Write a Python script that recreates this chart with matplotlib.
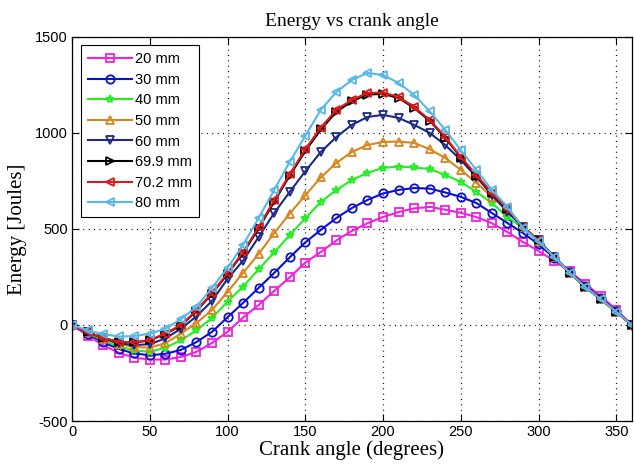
import matplotlib
matplotlib.use("Agg")
import matplotlib.pyplot as plt
from matplotlib import font_manager as fm
import numpy as np

plt.rcParams["axes.unicode_minus"] = False

angles = list(range(0, 361, 10))

e_20mm = [0, -55, -105, -145, -170, -180, -180, -167, -140, -94, -36, 39, 104, 177, 248,
          325, 380, 440, 490, 530, 562, 588, 607, 615, 600, 584, 562, 530, 484, 432,
          385, 335, 280, 215, 150, 80, 0]
e_30mm = [0, -45, -90, -125, -148, -158, -150, -130, -89, -36, 40, 115, 193, 271, 352,
          430, 495, 557, 609, 651, 685, 703, 713, 710, 690, 667, 635, 583, 531, 479,
          420, 350, 275, 205, 140, 72, 0]
e_40mm = [0, -40, -80, -112, -132, -140, -118, -80, -28, 36, 122, 200, 290, 378, 468,
          555, 641, 703, 755, 792, 818, 825, 820, 812, 781, 745, 693, 635, 562, 505,
          435, 355, 275, 200, 135, 68, 0]
e_50mm = [0, -38, -72, -98, -115, -118, -95, -45, 10, 78, 172, 271, 370, 478, 580,
          675, 768, 844, 901, 937, 953, 955, 948, 915, 870, 807, 740, 667, 599, 510,
          438, 355, 273, 198, 135, 68, 0]
e_60mm = [0, -35, -70, -95, -105, -100, -70, -20, 45, 125, 240, 335, 458, 583, 693,
          800, 901, 979, 1042, 1083, 1094, 1078, 1042, 1000, 937, 859, 771, 677, 588, 510,
          440, 355, 272, 198, 135, 68, 0]
e_699mm = [0, -38, -68, -88, -91, -80, -47, -3, 72, 163, 265, 375, 503, 642, 778,
           905, 1018, 1110, 1165, 1200, 1203, 1182, 1130, 1063, 975, 872, 778, 685, 604, 510,
           440, 355, 272, 198, 135, 68, 0]
e_702mm = [0, -38, -68, -88, -90, -78, -45, 0, 75, 167, 270, 380, 510, 650, 785,
           915, 1028, 1120, 1172, 1208, 1210, 1188, 1135, 1068, 979, 875, 781, 687, 605, 510,
           440, 355, 272, 198, 135, 68, 0]
e_80mm = [0, -28, -48, -60, -58, -45, -20, 30, 95, 193, 297, 417, 557, 703, 849,
          985, 1120, 1213, 1276, 1312, 1302, 1260, 1198, 1112, 1016, 911, 807, 703, 615, 505,
          435, 355, 272, 198, 135, 68, 0]

labels = ["20 mm", "30 mm", "40 mm", "50 mm", "60 mm", "69.9 mm", "70.2 mm", "80 mm"]
series = [e_20mm, e_30mm, e_40mm, e_50mm, e_60mm, e_699mm, e_702mm, e_80mm]
colors = ["#ee22dd", "#0a10d0", "#22ee22", "#d8861e", "#1c2a86", "#000000", "#e01818", "#55b8e8"]
markers = ["s", "o", "*", "^", "v", ">", "<", "<"]

xticks = [0, 50, 100, 150, 200, 250, 300, 350]
yticks = [-500, 0, 500, 1000, 1500]

avail = {f.name for f in fm.fontManager.ttflist}
sans = "Liberation Sans Narrow" if "Liberation Sans Narrow" in avail else "Liberation Sans"
serif = "Liberation Serif"

fig = plt.figure(figsize=(6.34, 4.67), dpi=100)
ax = fig.add_axes([0.1136, 0.0985, 0.883, 0.8225])

for y, lab, c, m in zip(series, labels, colors, markers):
    ax.plot(angles, y, color=c, marker=m, markersize=6, markerfacecolor="none",
            markeredgewidth=1.3, linewidth=1.5, label=lab)

ax.set_xlim(0, 360)
ax.set_ylim(-500, 1500)
ax.set_xticks(xticks)
ax.set_yticks(yticks)
ax.grid(True, linestyle=(0, (0.8, 3.5)), color="black", linewidth=0.9)
ax.tick_params(direction="in", top=True, right=True, length=5, width=0.8, pad=3)
for lab in ax.get_xticklabels() + ax.get_yticklabels():
    lab.set_fontfamily(sans)
    lab.set_fontsize(10.5)
for s in ax.spines.values():
    s.set_linewidth(0.9)

ax.set_title("Energy vs crank angle", fontfamily=serif, fontsize=14, pad=8)
ax.set_xlabel("Crank angle (degrees)", fontfamily=serif, fontsize=15, labelpad=1)
ax.set_ylabel("Energy [Joules]", fontfamily=serif, fontsize=15, labelpad=6)

leg = ax.legend(loc="upper left", bbox_to_anchor=(0.016, 0.979), prop={"family": sans, "size": 10.5},
                handlelength=3.0, handletextpad=0.2, labelspacing=0.45, borderpad=0.5,
                fancybox=False, framealpha=1, edgecolor="black", borderaxespad=0)
leg.get_frame().set_linewidth(0.8)

fig.savefig("out.png", dpi=100)
